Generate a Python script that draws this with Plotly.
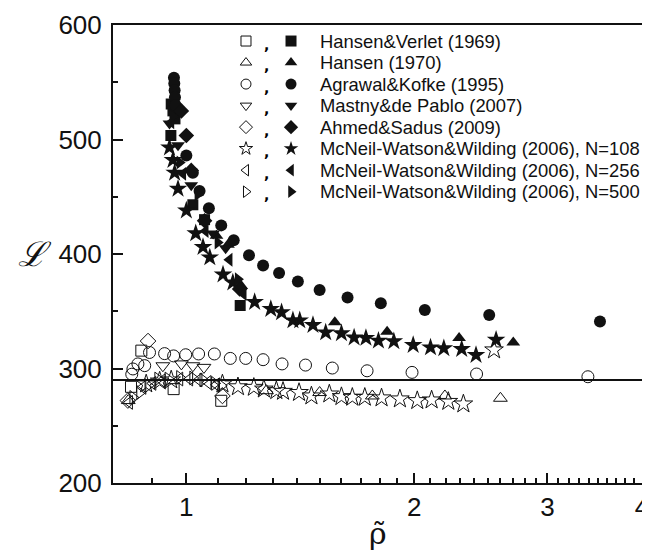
import plotly.graph_objects as go

# ---------------- data (rho_tilde, L) ----------------
hv_open_x = [0.872, 0.962, 1.112, 0.845]
hv_open_y = [315.6, 282.0, 271.8, 284.0]
hv_fill_x = [0.955, 0.960, 0.966, 0.954, 1.020, 1.057, 1.178]
hv_fill_y = [531.0, 525.0, 518.0, 503.5, 443.0, 430.0, 355.0]

h70_open_x = [0.838, 1.276, 1.500, 1.761, 2.196, 2.600]
h70_open_y = [272.0, 280.6, 279.0, 276.0, 276.0, 274.0]
h70_fill_x = [1.096, 1.135, 1.182, 1.571, 1.842, 2.293, 2.704]
h70_fill_y = [416.0, 408.0, 372.0, 340.3, 332.0, 326.7, 322.8]

ak_open_x = [0.847, 0.850, 0.863, 0.881, 0.894, 0.936, 0.962, 0.998, 1.038, 1.089,
             1.143, 1.198, 1.263, 1.338, 1.437, 1.559, 1.733, 1.987, 2.418, 3.393]
ak_open_y = [295.0, 299.6, 304.0, 302.5, 314.0, 313.0, 311.0, 312.0, 312.7, 312.7,
             308.8, 308.8, 307.7, 304.0, 303.0, 300.4, 298.0, 296.6, 295.2, 292.8]
ak_fill_x = [0.963, 0.964, 0.965, 0.966, 0.968, 1.000, 1.020, 1.041, 1.071, 1.112,
             1.155, 1.210, 1.263, 1.326, 1.404, 1.500, 1.633, 1.807, 2.066, 2.513, 3.520]
ak_fill_y = [554.0, 549.0, 543.0, 537.0, 530.0, 486.0, 471.0, 455.0, 440.0, 425.0,
             412.0, 399.0, 390.0, 383.5, 376.0, 368.6, 362.0, 357.0, 351.0, 346.8, 341.0]

mp_open_x = [0.931, 0.985, 1.020, 1.055]
mp_open_y = [302.4, 304.0, 302.4, 301.0]
mp_fill_x = [0.950, 0.975, 1.015, 1.085, 1.127]
mp_fill_y = [514.0, 495.0, 460.0, 418.0, 405.0]

as_open_x = [0.837, 0.890, 1.116]
as_open_y = [272.0, 324.0, 276.0]
as_fill_x = [0.985, 1.000, 1.015, 1.057, 1.176]
as_fill_y = [525.0, 503.5, 473.0, 429.0, 369.5]

n108_open_x = [0.885, 0.922, 0.955, 1.116, 1.170, 1.228, 1.266, 1.315, 1.342, 1.409,
               1.463, 1.545, 1.603, 1.657, 1.721, 1.811, 1.915, 2.019, 2.109, 2.219,
               2.323, 2.550]
n108_open_y = [286.5, 289.0, 290.0, 286.5, 284.0, 283.5, 282.0, 280.6, 280.0, 279.0,
               276.0, 277.7, 275.4, 274.8, 274.8, 274.3, 273.4, 271.9, 272.5, 271.2,
               269.0, 316.2]
n108_fill_x = [0.950, 0.960, 0.965, 0.975, 1.000, 1.029, 1.052, 1.074, 1.118, 1.152,
               1.231, 1.293, 1.336, 1.383, 1.412, 1.470, 1.528, 1.603, 1.666, 1.727,
               1.794, 1.880, 1.994, 2.102, 2.189, 2.311, 2.414, 2.566]
n108_fill_y = [493.0, 482.0, 471.0, 457.0, 438.0, 418.0, 406.0, 397.0, 382.0, 375.0,
               358.0, 352.0, 349.0, 342.0, 342.0, 338.0, 331.5, 330.7, 327.0, 326.7,
               324.3, 323.7, 320.5, 318.4, 317.6, 317.0, 311.8, 325.0]

n256_open_x = [0.841, 0.876, 0.903, 0.929, 0.980, 1.010, 1.039, 1.068, 1.096]
n256_open_y = [270.4, 283.5, 287.0, 289.3, 290.8, 290.8, 290.0, 287.8, 285.8]
n256_fill_x = [0.955, 0.990, 1.060, 1.140, 1.190]
n256_fill_y = [515.0, 470.0, 420.0, 395.0, 365.0]

n500_open_x = [0.850, 0.868, 0.890, 0.917, 0.946, 0.980, 1.020, 1.052, 1.090, 1.112]
n500_open_y = [274.7, 279.0, 285.0, 290.8, 290.8, 292.2, 291.7, 290.0, 287.0, 285.0]
n500_fill_x = [0.960, 0.980, 1.035, 1.100, 1.170]
n500_fill_y = [520.0, 480.0, 452.0, 410.0, 378.0]

ideal_L = 290.0

series_names = [
    "Hansen&Verlet (1969)",
    "Hansen (1970)",
    "Agrawal&Kofke (1995)",
    "Mastny&de Pablo (2007)",
    "Ahmed&Sadus (2009)",
    "McNeil-Watson&Wilding (2006), N=108",
    "McNeil-Watson&Wilding (2006), N=256",
    "McNeil-Watson&Wilding (2006), N=500",
]
series_symbols = ["square", "triangle-up", "circle", "triangle-down", "diamond",
                  "star", "triangle-left", "triangle-right"]
series_sizes = [11, 12, 12, 12, 12, 14, 12, 12]
series_data = [
    (hv_open_x, hv_open_y, hv_fill_x, hv_fill_y),
    (h70_open_x, h70_open_y, h70_fill_x, h70_fill_y),
    (ak_open_x, ak_open_y, ak_fill_x, ak_fill_y),
    (mp_open_x, mp_open_y, mp_fill_x, mp_fill_y),
    (as_open_x, as_open_y, as_fill_x, as_fill_y),
    (n108_open_x, n108_open_y, n108_fill_x, n108_fill_y),
    (n256_open_x, n256_open_y, n256_fill_x, n256_fill_y),
    (n500_open_x, n500_open_y, n500_fill_x, n500_fill_y),
]

x_major = [1, 2, 3, 4]
x_minor = [0.8, 0.9, 1.1, 1.2, 1.3, 1.4, 1.5, 1.6, 1.7, 1.8, 1.9, 2.1, 2.2, 2.3, 2.4,
           2.5, 2.6, 2.7, 2.8, 2.9, 3.1, 3.2, 3.3, 3.4, 3.5, 3.6, 3.7, 3.8, 3.9]

INK = "#111111"
fig = go.Figure()

for (ox, oy, fx, fy), sym, sz, name in zip(series_data, series_symbols, series_sizes, series_names):
    fig.add_trace(go.Scatter(x=ox, y=oy, mode="markers", showlegend=False, name=name,
                             marker=dict(symbol=sym + "-open", size=sz, color=INK,
                                         line=dict(width=1, color=INK))))
    fig.add_trace(go.Scatter(x=fx, y=fy, mode="markers", showlegend=False, name=name,
                             marker=dict(symbol=sym, size=sz, color=INK,
                                         line=dict(width=0))))

# manual legend on an overlay [0,1] axis
row_top = 0.965
row_step = 0.047
open_x, comma_x, fill_x, text_x = 0.2514, 0.291, 0.3365, 0.3875
annotations = []
for i, (sym, name) in enumerate(zip(series_symbols, series_names)):
    yy = row_top - i * row_step
    fig.add_trace(go.Scatter(x=[open_x], y=[yy], xaxis="x2", yaxis="y2", mode="markers",
                             showlegend=False, hoverinfo="skip",
                             marker=dict(symbol=sym + "-open", size=10, color=INK,
                                         line=dict(width=1, color=INK))))
    fig.add_trace(go.Scatter(x=[fill_x], y=[yy], xaxis="x2", yaxis="y2", mode="markers",
                             showlegend=False, hoverinfo="skip",
                             marker=dict(symbol=sym, size=11, color=INK, line=dict(width=0))))
    annotations.append(dict(x=comma_x, y=yy - 0.008, xref="paper", yref="paper", text="<b>,</b>",
                            showarrow=False, xanchor="center", yanchor="middle",
                            font=dict(family="DejaVu Sans", size=14, color="#000000")))
    annotations.append(dict(x=text_x, y=yy, xref="paper", yref="paper", text=name,
                            showarrow=False, xanchor="left", yanchor="middle",
                            font=dict(family="Liberation Sans", size=18.4, color=INK)))

# axis titles
annotations.append(dict(x=0.5, y=-0.111, xref="paper", yref="paper", text="ρ̃",
                        showarrow=False, xanchor="center", yanchor="middle",
                        font=dict(family="DejaVu Serif", size=30, color=INK)))
annotations.append(dict(x=-0.148, y=0.5, xref="paper", yref="paper", text="<i>ℒ</i>",
                        showarrow=False, xanchor="center", yanchor="middle",
                        font=dict(family="DejaVu Serif", size=34, color=INK)))

fig.add_shape(type="line", xref="paper", yref="y", x0=0, x1=1, y0=ideal_L, y1=ideal_L,
              line=dict(color=INK, width=2))

# page body has an 8px default margin: figure is 642x544 so the page does not scroll and
# the plot area lands at x 113..642, y 25..483 in the 650x560 window
fig.update_layout(
    width=642, height=544,
    margin=dict(l=105, r=8, t=17, b=69),
    paper_bgcolor="white", plot_bgcolor="white",
    showlegend=False,
    annotations=annotations,
    font=dict(family="Liberation Sans", color=INK),
    xaxis=dict(type="log", range=[-0.09691, 0.60206], automargin=False,
               tickvals=x_major, ticktext=[str(v) for v in x_major],
               ticklabeloverflow="allow",
               ticks="inside", ticklen=10, tickwidth=1.5, tickcolor=INK,
               minor=dict(tickvals=x_minor, ticks="inside", ticklen=5, tickwidth=1.5,
                          tickcolor=INK),
               showline=True, linecolor=INK, linewidth=2, mirror=True,
               showgrid=False, zeroline=False,
               tickfont=dict(family="Liberation Sans", size=26, color=INK)),
    yaxis=dict(range=[200, 600], dtick=100, tick0=200, automargin=False,
               ticks="inside", ticklen=10, tickwidth=1.5, tickcolor=INK,
               minor=dict(dtick=50, ticks="inside", ticklen=5, tickwidth=1.5, tickcolor=INK),
               showline=True, linecolor=INK, linewidth=2, mirror=True,
               showgrid=False, zeroline=False, ticklabelstandoff=4,
               tickfont=dict(family="Liberation Sans", size=26, color=INK)),
    xaxis2=dict(range=[0, 1], overlaying="x", visible=False),
    yaxis2=dict(range=[0, 1], overlaying="y", visible=False),
)

fig.write_html("out.html")
